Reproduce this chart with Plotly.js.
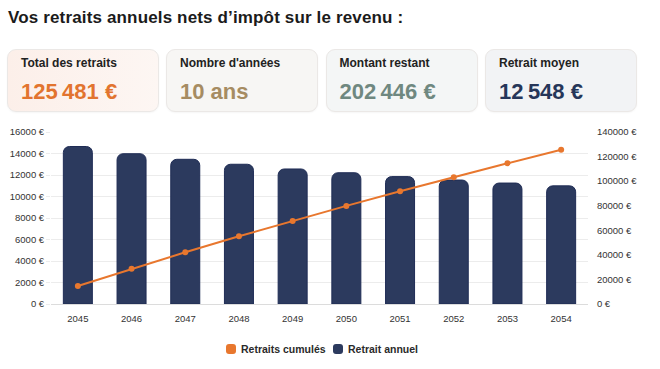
<!DOCTYPE html>
<html>
<head>
<meta charset="utf-8">
<script src="https://cdn.plot.ly/plotly-3.0.1.min.js"></script>
<style>
  html, body { margin:0; padding:0; }
  body { width:660px; height:369px; background:#ffffff; position:relative; overflow:hidden;
         font-family:"Liberation Sans", Arial, Helvetica, sans-serif; }
  #chart { position:absolute; left:0; top:0; width:660px; height:369px; }
  .title { position:absolute; left:8px; top:9px; font-size:17px; line-height:17px; font-weight:bold; color:#1b1b1b; white-space:nowrap; letter-spacing:0.15px; }
  .card { position:absolute; top:49px; width:152px; height:63px; border-radius:9px; border:1px solid #ebe8e6;
          box-shadow:0 1px 2px rgba(0,0,0,0.04); box-sizing:border-box; }
  .card .lab { position:absolute; left:13px; top:6.5px; font-size:12px; line-height:12px; font-weight:bold; color:#222; white-space:nowrap; }
  .card .val { position:absolute; left:13px; top:30.5px; font-size:22px; line-height:22px; font-weight:bold; white-space:nowrap; letter-spacing:0px; }
  .leg { position:absolute; top:343px; display:flex; align-items:center; font-size:10.5px; font-weight:bold; color:#2a2a2a; white-space:nowrap; }
  .leg .box { width:10px; height:10px; border-radius:3px; margin-right:5px; }
</style>
</head>
<body>
<div id="chart"></div>
<div class="title" id="title"></div>
<div id="cards"></div>
<div id="legend"></div>
<script>
// ---- data ----
var titleText = "Vos retraits annuels nets d\u2019imp\u00f4t sur le revenu :";
var years = ['2045','2046','2047','2048','2049','2050','2051','2052','2053','2054'];
var annualWithdrawal = [14650, 13980, 13460, 13000, 12560, 12210, 11850, 11530, 11250, 10991];
var cumulativeWithdrawal = [14650, 28630, 42090, 55090, 67650, 79860, 91710, 103240, 114490, 125481];
var cardLabels = ['Total des retraits', "Nombre d'ann\u00e9es", 'Montant restant', 'Retrait moyen'];
var cardValues = ['125\u2009481 \u20ac', '10 ans', '202\u2009446 \u20ac', '12\u2009548 \u20ac'];
var seriesNames = ['Retraits cumul\u00e9s', 'Retrait annuel'];

// ---- style ----
var cardValueColors = ['#e2742f', '#a68c62', '#6f8880', '#263659'];
var cardBgs = ['linear-gradient(90deg,#fcefe9,#fdf6f3)', '#f7f6f4', '#f4f6f6', '#f2f3f5'];
var cardLefts = [7, 166, 325.5, 485];
var lineColor = '#e8772e';
var barColor = '#2c3a5e';

document.getElementById('title').textContent = titleText;
var cardsDiv = document.getElementById('cards');
cardLabels.forEach(function(l, i) {
  var c = document.createElement('div');
  c.className = 'card';
  c.style.left = cardLefts[i] + 'px';
  c.style.background = cardBgs[i];
  var a = document.createElement('div'); a.className = 'lab'; a.textContent = l;
  var v = document.createElement('div'); v.className = 'val'; v.textContent = cardValues[i];
  v.style.color = cardValueColors[i];
  c.appendChild(a); c.appendChild(v); cardsDiv.appendChild(c);
});
var legDiv = document.getElementById('legend');
var legLefts = [226, 333];
var legColors = [lineColor, barColor];
seriesNames.forEach(function(n, i) {
  var d = document.createElement('div'); d.className = 'leg'; d.style.left = legLefts[i] + 'px';
  var b = document.createElement('div'); b.className = 'box'; b.style.background = legColors[i];
  var t = document.createElement('span'); t.textContent = n;
  d.appendChild(b); d.appendChild(t); legDiv.appendChild(d);
});

var tickFont = {family:'"Liberation Sans", Arial, sans-serif', size:9.5, color:'#333333'};

var traces = [
  {
    type:'bar', x:years, y:annualWithdrawal, name:seriesNames[1], yaxis:'y',
    marker:{color:barColor, line:{color:'#1f2c55', width:1}},
    hoverinfo:'skip'
  },
  {
    type:'scatter', mode:'lines+markers', x:years, y:cumulativeWithdrawal, name:seriesNames[0], yaxis:'y2',
    line:{color:lineColor, width:2}, marker:{color:lineColor, size:6},
    hoverinfo:'skip'
  }
];

var layout = {
  width:660, height:369,
  margin:{l:51, r:72, t:132, b:65, pad:0},
  paper_bgcolor:'rgba(0,0,0,0)', plot_bgcolor:'rgba(0,0,0,0)',
  showlegend:false,
  bargap:0.46,
  barcornerradius:6,
  font:{family:'"Liberation Sans", Arial, sans-serif'},
  xaxis:{type:'category', range:[-0.5, 9.5], showgrid:false, zeroline:false,
         showline:false, ticks:'outside', ticklen:6, tickcolor:'rgba(0,0,0,0)',
         tickfont:tickFont, fixedrange:true},
  yaxis:{range:[0,16000], dtick:2000, tick0:0, tickformat:'d', ticksuffix:' \u20ac',
         showgrid:true, gridcolor:'#ececec', gridwidth:1, zeroline:true, zerolinecolor:'#dcdcdc', zerolinewidth:1,
         ticks:'outside', ticklen:4, tickcolor:'#ececec', tickfont:tickFont, fixedrange:true},
  yaxis2:{range:[0,140000], dtick:20000, tick0:0, tickformat:'d', ticksuffix:' \u20ac',
          overlaying:'y', side:'right', showgrid:false, zeroline:false,
          ticks:'outside', ticklen:6, tickcolor:'rgba(0,0,0,0)', tickfont:tickFont, fixedrange:true}
};

Plotly.newPlot('chart', traces, layout, {displayModeBar:false, staticPlot:true});
</script>
</body>
</html>
